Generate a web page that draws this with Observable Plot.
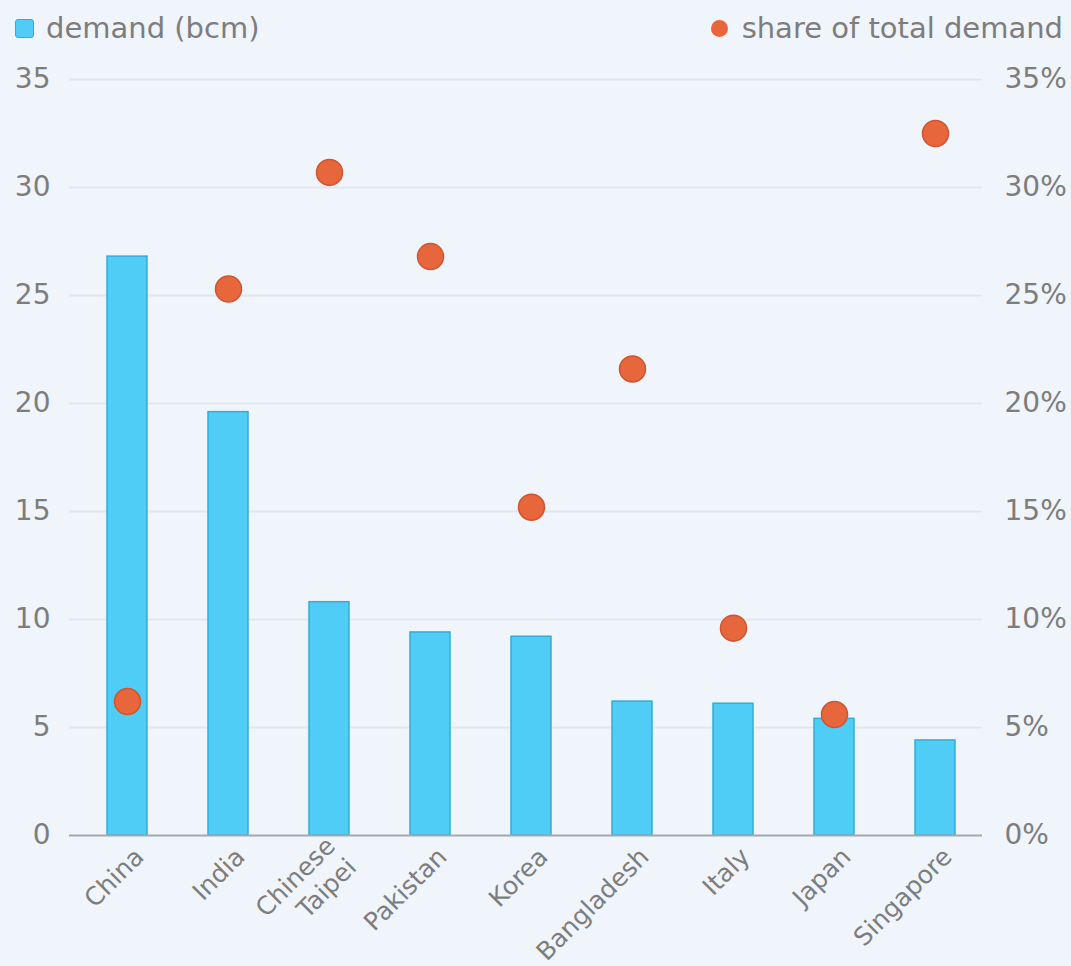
<!DOCTYPE html>
<html><head><meta charset="utf-8">
<script src="https://cdn.jsdelivr.net/npm/d3@7"></script>
<script src="https://cdn.jsdelivr.net/npm/@observablehq/plot@0.6"></script>
<style>
html,body{margin:0;padding:0;background:#f0f4fb;}
#wrap{position:relative;width:1071px;height:966px;background:#f0f4fb;font-family:"DejaVu Sans",sans-serif;color:#7d7d7d;overflow:hidden;}
.leg{position:absolute;top:9px;height:38px;display:flex;align-items:center;font-size:29px;white-space:nowrap;}
.sw{display:inline-block;width:17px;height:17px;border-radius:3px;background:#4fcdf6;border:1px solid #34acd6;margin-right:12px;}
.dt{display:inline-block;width:17px;height:17px;border-radius:50%;background:#e8663b;margin-right:14px;}
#chart{position:absolute;left:0;top:0;}
</style></head><body>
<div id="wrap">
  <div id="chart"></div>
  <div class="leg" style="left:15px"><span class="sw"></span>demand (bcm)</div>
  <div class="leg" style="right:8px"><span class="dt"></span>share of total demand</div>
</div>
<script>
const categories = ["China","India","Chinese\nTaipei","Pakistan","Korea","Bangladesh","Italy","Japan","Singapore"];
const demand = [26.8,19.6,10.8,9.4,9.2,6.2,6.1,5.4,4.4];
const share = [6.2,25.3,30.7,26.8,15.2,21.6,9.6,5.6,32.5];
const yTicks = [0,5,10,15,20,25,30,35];
const data = categories.map((c,i)=>({category:c, demand:demand[i], share:share[i]}));
const chart = Plot.plot({
  width:1071, height:966, marginTop:79, marginBottom:131, marginLeft:69, marginRight:89,
  style:{background:"transparent", fontFamily:"DejaVu Sans", fontSize:"28px", color:"#7d7d7d", overflow:"visible"},
  x:{type:"band", domain:categories, range:[76,987], paddingInner:0.6, paddingOuter:0.3, axis:null},
  y:{domain:[0,35]},
  marks:[
    Plot.ruleY(yTicks.filter(d=>d>0), {stroke:"#e2e6ee", strokeWidth:2}),
    Plot.axisY({anchor:"left", ticks:yTicks, tickSize:0, tickPadding:19, fontSize:28, fill:"#7d7d7d", label:null}),
    Plot.axisY({anchor:"right", ticks:yTicks, tickSize:0, tickPadding:22, tickFormat:d=>d+"%", fontSize:28, fill:"#7d7d7d", label:null}),
    Plot.barY(data,{x:"category", y:"demand", fill:"#4fcdf6", stroke:"#34acd6", strokeWidth:1.5}),
    Plot.ruleY([0],{stroke:"#a4a8b0", strokeWidth:2}),
    Plot.dot(data,{x:"category", y:"share", r:13, fill:"#e8663b", stroke:"#cf5530", strokeWidth:1.5}),
    Plot.text(data,{x:"category", text:"category", frameAnchor:"bottom", rotate:-45, textAnchor:"end", lineAnchor:"middle", dx:11, dy:16, fontSize:25, fill:"#7d7d7d", lineHeight:1.2})
  ]
});
document.getElementById("chart").appendChild(chart);
</script>
</body></html>
